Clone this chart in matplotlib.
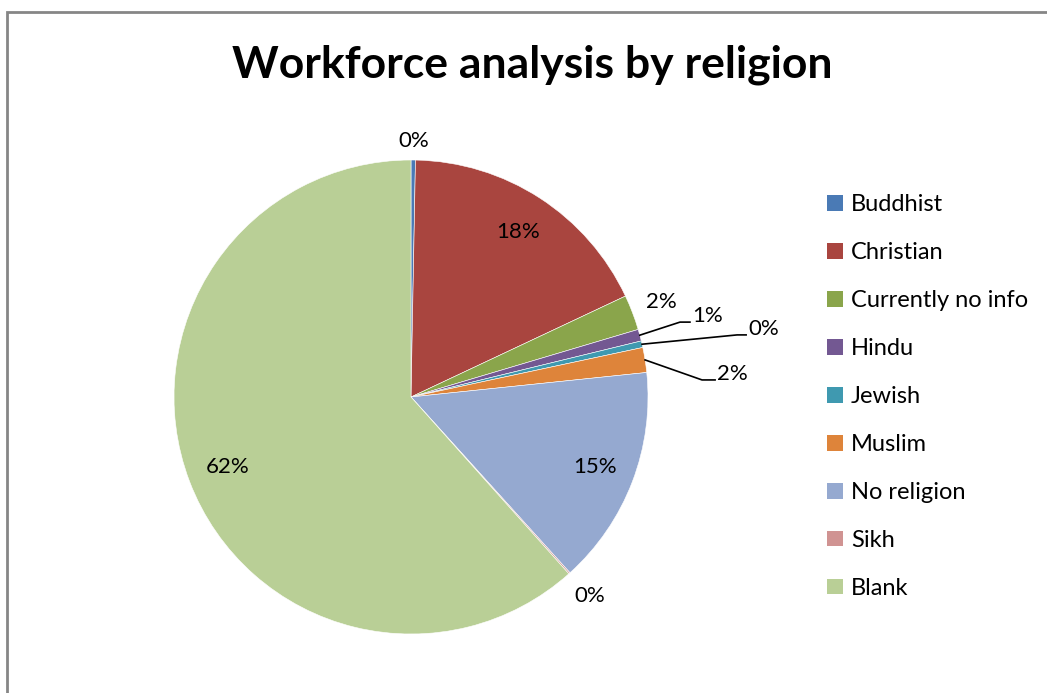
import matplotlib.pyplot as plt
import numpy as np
from matplotlib.patches import Rectangle

# workforce share by religion (percent)
religions = ['Buddhist', 'Christian', 'Currently no info', 'Hindu', 'Jewish',
             'Muslim', 'No religion', 'Sikh', 'Blank']
shares = [0.3, 17.7, 2.4, 0.8, 0.45, 1.7, 14.95, 0.1, 61.6]
colors = ['#4a7ab5', '#a9453f', '#8aa54b', '#735892', '#3f99b0',
          '#de843a', '#95a9d0', '#d09392', '#b9cf96']

plt.rcParams['font.family'] = ['Lato', 'DejaVu Sans']

fig = plt.figure(figsize=(10.47, 6.93), dpi=100)
# chart frame (right and bottom edges run off the canvas)
fig.patches.append(Rectangle((6.5 / 1047, -0.1), 1.2, 1 - 11.5 / 693 + 0.1,
                             transform=fig.transFigure, fill=False,
                             edgecolor='#868686', linewidth=2))

ax = fig.add_axes([174 / 1047, 59 / 693, 474 / 1047, 474 / 693])
wedges, _ = ax.pie(shares, colors=colors, startangle=90, counterclock=False,
                   radius=1, wedgeprops=dict(edgecolor='white', linewidth=0.4))
ax.set_xlim(-1, 1)
ax.set_ylim(-1, 1)
ax.set_aspect('equal')
ax.set_clip_on(False)

total = sum(shares)
pct = ['%.0f%%' % (v / total * 100) for v in shares]

# label radius for labels placed along the slice bisector
label_r = {0: 1.08, 1: 0.83, 2: 1.13, 6: 0.83, 7: 1.13, 8: 0.83}
# slices whose labels sit at the end of a leader line: (elbow, end)
leaders = {3: ((1.135, 0.316), (1.177, 0.316)),
           4: ((1.376, 0.262), (1.414, 0.262)),
           5: ((1.228, 0.072), (1.283, 0.072))}

fs = 16
for i, w in enumerate(wedges):
    mid = np.deg2rad((w.theta1 + w.theta2) / 2)
    if i in label_r:
        r = label_r[i]
        ax.text(r * np.cos(mid), r * np.sin(mid), pct[i], ha='center',
                va='center', fontsize=fs, clip_on=False)
    else:
        (ex, ey), (tx, ty) = leaders[i]
        ax.plot([np.cos(mid), ex, tx], [np.sin(mid), ey, ty], color='black',
                linewidth=1.2, clip_on=False)
        ax.text(tx + 0.01, ty + 0.025, pct[i], ha='left', va='center',
                fontsize=fs, clip_on=False)

fig.suptitle('Workforce analysis by religion', x=532 / 1047, y=1 - 65 / 693,
             va='center', fontsize=32, fontweight='bold')

handles = [Rectangle((0, 0), 1, 1, facecolor=c) for c in colors]
fig.legend(handles, religions, loc='upper left',
           bbox_to_anchor=(818 / 1047, 1 - 185 / 693), frameon=False,
           fontsize=17, handlelength=0.65, handleheight=0.65, handletextpad=0.35,
           labelspacing=1.14, borderaxespad=0)

fig.savefig('out.png', dpi=100, facecolor='white')
